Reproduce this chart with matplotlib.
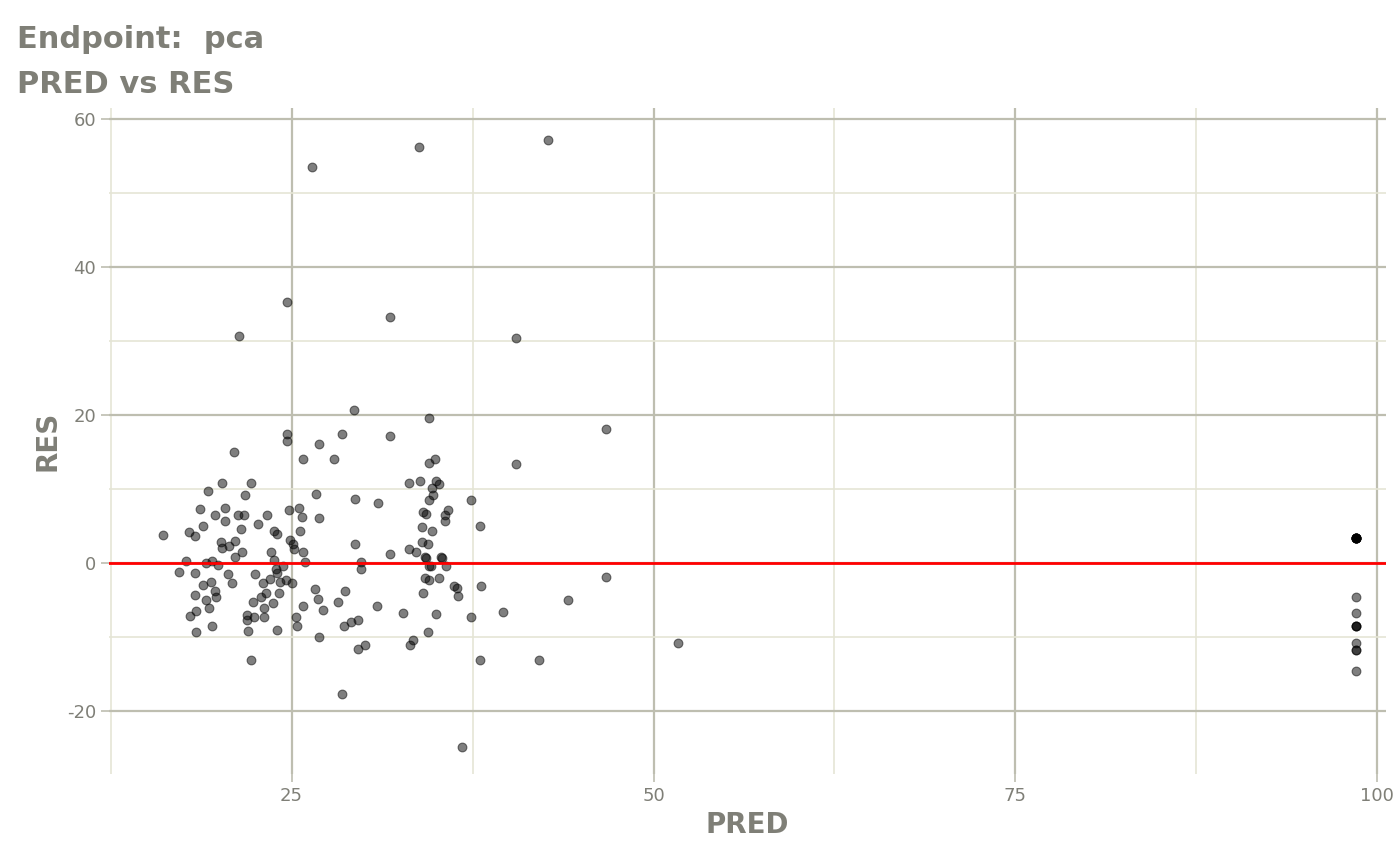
import matplotlib.pyplot as plt
from matplotlib.ticker import MultipleLocator

plt.rcParams['axes.unicode_minus'] = False

pred = [16.1, 17.2, 17.7, 17.9, 18.0, 18.3, 18.3, 18.4, 18.4, 18.3, 18.7, 18.9, 18.9, 19.1, 19.1,
        19.2, 19.3, 19.4, 19.5, 19.5, 19.7, 19.7, 19.8, 19.9, 20.1, 20.2, 20.2, 20.4, 20.4, 20.6,
        20.7, 20.9, 21.0, 21.1, 21.1, 21.3, 21.4, 21.5, 21.6, 21.7, 21.8, 21.9, 21.9, 22.0, 22.2,
        22.2, 22.3, 22.4, 22.5, 22.7, 22.9, 23.0, 23.1, 23.1, 23.2, 23.3, 23.5, 23.6, 23.7, 23.8,
        23.8, 23.9, 24.0, 24.0, 24.0, 24.1, 24.2, 24.4, 24.6, 24.7, 24.7, 24.7, 24.8, 24.9, 25.0,
        25.1, 25.2, 25.3, 25.4, 25.5, 25.6, 25.7, 25.8, 25.8, 25.8, 25.9, 26.4, 26.6, 26.7, 26.8,
        26.9, 26.9, 26.9, 27.2, 27.9, 28.2, 28.5, 28.5, 28.6, 28.7, 29.1, 29.3, 29.4, 29.4, 29.6,
        29.6, 29.8, 29.8, 30.1, 30.9, 31.0, 31.8, 31.8, 31.8, 32.7, 33.1, 33.1, 33.2, 33.4, 33.6,
        33.8, 33.9, 34.0, 34.0, 34.1, 34.1, 34.2, 34.2, 34.3, 34.3, 34.4, 34.4, 34.5, 34.5, 34.5,
        34.5, 34.5, 34.6, 34.7, 34.7, 34.8, 34.9, 35.0, 35.0, 35.2, 35.2, 35.3, 35.4, 35.6, 35.6,
        35.7, 35.8, 36.2, 36.4, 36.5, 36.8, 37.4, 37.4, 38.0, 38.0, 38.1, 39.6, 40.5, 40.5, 42.1,
        42.7, 44.1, 46.7, 46.7, 51.7,
        98.55, 98.55, 98.55, 98.55, 98.55, 98.55, 98.55, 98.55, 98.55, 98.55, 98.55, 98.55,
        98.55, 98.55, 98.55, 98.55, 98.55]
res = [3.8, -1.2, 0.3, 4.1, -7.2, 3.6, -1.4, -9.3, -6.5, -4.3, 7.3, 5.0, -3.0, -5.0, -0.1,
       9.7, -6.1, -2.6, 0.3, -8.6, 6.4, -3.8, -4.7, -0.3, 2.8, 10.8, 2.0, 7.4, 5.7, -1.5,
       2.3, -2.7, 15.0, 0.8, 3.0, 6.5, 30.7, 4.6, 1.4, 6.4, 9.2, -7.0, -7.8, -9.2, 10.8,
       -13.2, -5.3, -7.3, -1.5, 5.3, -4.7, -2.7, -6.1, -7.3, -4.1, 6.5, -2.2, 1.4, -5.5, 4.3,
       0.4, -0.9, -1.4, 3.9, -9.1, -4.1, -2.6, -0.4, -2.4, 16.5, 35.3, 17.4, 7.2, 3.1, -2.7,
       2.6, 1.9, -7.3, -8.5, 7.4, 4.3, 6.2, 1.4, 14.1, -5.8, 0.1, 53.6, -3.6, 9.3, -4.9,
       6.1, 16.1, -10.0, -6.4, 14.1, -5.3, 17.4, -17.7, -8.6, -3.8, -8.0, 20.7, 8.6, 2.6, -7.7,
       -11.6, 0.1, -0.8, -11.1, -5.9, 8.1, 33.2, 17.2, 1.2, -6.8, 10.8, 1.8, -11.1, -10.4, 1.4,
       56.2, 11.1, 2.8, 4.9, 6.9, -4.1, -2.0, 0.8, 0.7, 6.6, 2.6, -9.3, 19.6, -0.4, 8.5,
       13.5, -2.4, -0.5, 10.1, 4.3, 9.2, 14.1, 11.1, -6.9, -2.0, 10.7, 0.8, 0.7, 5.7, 6.4,
       -0.5, 7.2, -3.2, -3.4, -4.5, -24.9, 8.5, -7.4, 5.0, -13.1, -3.1, -6.6, 30.4, 13.4, -13.1,
       57.2, -5.1, 18.1, -1.9, -10.8,
       3.4, 3.4, 3.4, 3.4, 3.4, 3.4, 3.4, 3.4, -4.7, -6.8, -8.6, -8.6, -8.6,
       -10.8, -11.8, -11.8, -14.7]

grey = '#7f7f77'
fig, ax = plt.subplots(figsize=(14, 8.65), dpi=100)
fig.subplots_adjust(left=0.078, right=0.99, top=0.875, bottom=0.105)

ax.scatter(pred, res, s=40, color='black', alpha=0.5, linewidths=0.8, edgecolors='black', zorder=3)
ax.axhline(0, color='red', lw=2, zorder=4)

ax.set_xlim(12.4, 100.6)
ax.set_ylim(-28.6, 61.5)
ax.xaxis.set_major_locator(MultipleLocator(25))
ax.xaxis.set_minor_locator(MultipleLocator(12.5))
ax.yaxis.set_major_locator(MultipleLocator(20))
ax.yaxis.set_minor_locator(MultipleLocator(10))
ax.grid(which='major', color='#bebeb0', lw=1.6)
ax.grid(which='minor', color='#e5e5d5', lw=1.2)
ax.set_axisbelow(True)
for s in ax.spines.values():
    s.set_visible(False)
ax.tick_params(which='major', colors='#bebeb0', labelcolor=grey, labelsize=13, length=6, width=1.2)
ax.tick_params(which='minor', length=0)

ax.set_xlabel('PRED', fontsize=20, fontweight='bold', color=grey)
ax.set_ylabel('RES', fontsize=20, fontweight='bold', color=grey)
fig.text(0.012, 0.945, 'Endpoint:  pca', fontsize=22, fontweight='bold', color=grey)
fig.text(0.012, 0.893, 'PRED vs RES', fontsize=22, fontweight='bold', color=grey)

fig.savefig('out.png')
